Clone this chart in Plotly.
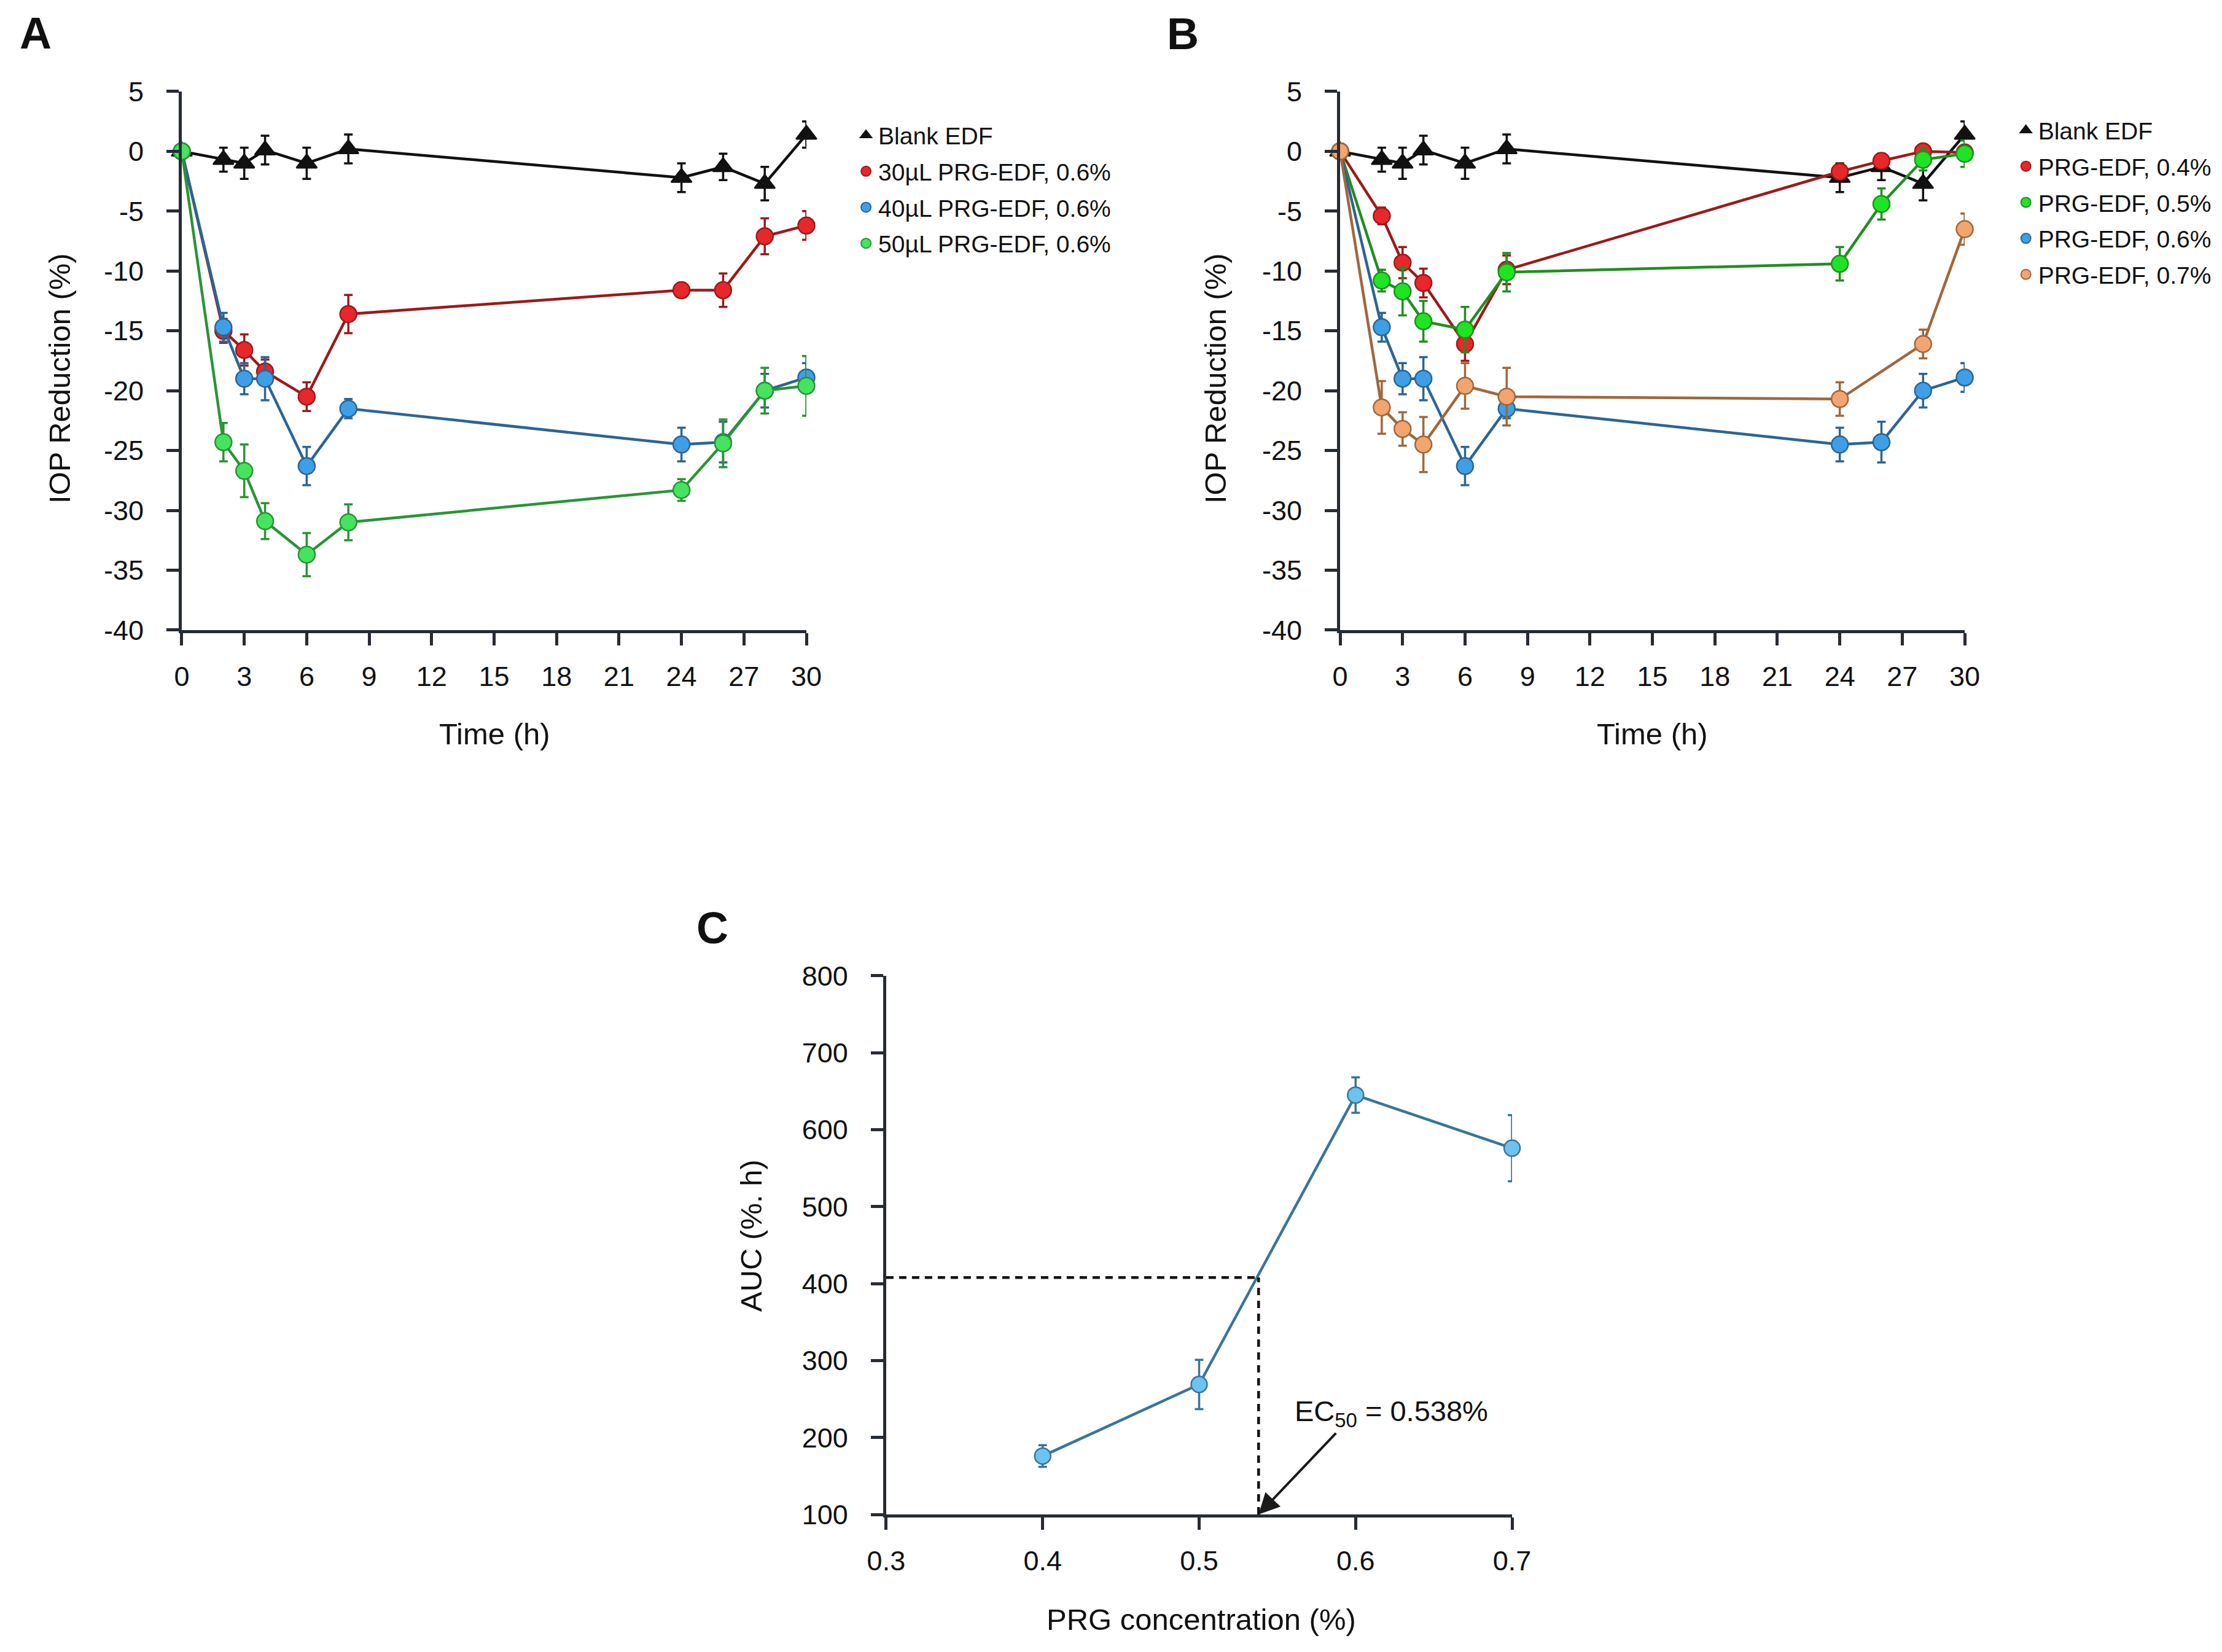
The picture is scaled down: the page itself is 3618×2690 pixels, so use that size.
import plotly.graph_objects as go

# ---- data ----
time_h = [0, 2, 3, 4, 6, 8, 24, 26, 28, 30]
time_h_07 = [0, 2, 3, 4, 6, 8, 24, 28, 30]   # 0.7% group has no 26 h point

blank = [0, -0.7, -1.0, 0.1, -1.0, 0.2, -2.2, -1.3, -2.7, 1.4]
blank_err = [0, 1.0, 1.3, 1.2, 1.3, 1.2, 1.2, 1.1, 1.4, 1.1]

# panel A: dose volume at 0.6%
vol30 = [0, -15.0, -16.6, -18.4, -20.5, -13.6, -11.6, -11.6, -7.1, -6.2]
vol30_err = [0, 1.0, 1.3, 1.0, 1.2, 1.6, 0.6, 1.4, 1.5, 1.2]
vol40 = [0, -14.7, -19.0, -19.0, -26.3, -21.5, -24.5, -24.3, -20.0, -18.9]
vol40_err = [0, 1.2, 1.3, 1.8, 1.6, 0.8, 1.4, 1.7, 1.4, 1.2]
vol50 = [0, -24.3, -26.7, -30.9, -33.7, -31.0, -28.3, -24.4, -20.0, -19.6]
vol50_err = [0, 1.6, 2.2, 1.5, 1.8, 1.5, 0.9, 2.0, 1.9, 2.5]

# panel B: concentration
conc04 = [0, -5.4, -9.3, -11.0, -16.1, -9.9, -1.7, -0.8, 0.0, -0.1]
conc04_err = [0, 0.7, 1.3, 1.2, 1.4, 1.2, 0.6, 0.4, 0.3, 0.3]
conc05 = [0, -10.8, -11.7, -14.2, -14.9, -10.1, -9.4, -4.4, -0.7, -0.2]
conc05_err = [0, 0.9, 2.0, 1.7, 1.9, 1.6, 1.4, 1.3, 0.9, 1.1]
conc06 = vol40
conc06_err = vol40_err
conc07 = [0, -21.4, -23.2, -24.5, -19.6, -20.5, -20.7, -16.1, -6.5]
conc07_err = [0, 2.2, 1.4, 2.3, 1.9, 2.4, 1.4, 1.2, 1.3]

# panel C: AUC vs concentration
prg_conc = [0.4, 0.5, 0.6, 0.7]
auc = [176, 269, 645, 576]
auc_err = [14, 32, 23, 43]
ec50 = 0.538
auc_at_ec50 = 408

x_ticks_time = list(range(0, 31, 3))
y_ticks_iop = list(range(-40, 6, 5))
y_ticktext_iop = [str(v) for v in y_ticks_iop]
x_ticks_conc = [0.3, 0.4, 0.5, 0.6, 0.7]
y_ticks_auc = list(range(100, 801, 100))

FONT = "Arial, Liberation Sans, Helvetica, sans-serif"
AX_COL = "#262c35"

fig = go.Figure()


def add_series(t, y, err, name, fill, line_col, xa, ya, leg, symbol="circle", size=27):
    fig.add_trace(go.Scatter(
        x=t, y=y, mode="lines+markers", xaxis=xa, yaxis=ya, showlegend=False,
        line=dict(color=line_col, width=4.5),
        marker=dict(symbol=symbol, size=size, color=fill,
                    line=dict(color=line_col, width=2.5)),
        error_y=dict(type="data", array=err, color=line_col, thickness=3.5, width=7),
        cliponaxis=False,
    ))
    # legend entry shows only the marker
    fig.add_trace(go.Scatter(
        x=[None], y=[None], mode="markers", name=name, xaxis=xa, yaxis=ya,
        legend=leg, legendgroup=leg + name,
        marker=dict(symbol=symbol, size=size, color=fill,
                    line=dict(color=line_col, width=2)),
    ))


# Panel A
add_series(time_h, blank, blank_err, "Blank EDF", "#111111", "#111111", "x", "y", "legend",
           symbol="triangle-up", size=29)
add_series(time_h, vol30, vol30_err, "30µL PRG-EDF, 0.6%", "#e8272b", "#9c1a1a", "x", "y", "legend")
add_series(time_h, vol40, vol40_err, "40µL PRG-EDF, 0.6%", "#3f9fe6", "#2b6594", "x", "y", "legend")
add_series(time_h, vol50, vol50_err, "50µL PRG-EDF, 0.6%", "#45e35e", "#2a9436", "x", "y", "legend")

# Panel B
add_series(time_h, blank, blank_err, "Blank EDF", "#111111", "#111111", "x2", "y2", "legend2",
           symbol="triangle-up", size=29)
add_series(time_h, conc04, conc04_err, "PRG-EDF, 0.4%", "#e8272b", "#9c1a1a", "x2", "y2", "legend2")
add_series(time_h, conc05, conc05_err, "PRG-EDF, 0.5%", "#1ee424", "#1f8f1f", "x2", "y2", "legend2")
add_series(time_h, conc06, conc06_err, "PRG-EDF, 0.6%", "#3f9fe6", "#2b6594", "x2", "y2", "legend2")
add_series(time_h_07, conc07, conc07_err, "PRG-EDF, 0.7%", "#f2a56f", "#a0673c", "x2", "y2", "legend2")

# Panel C
fig.add_trace(go.Scatter(
    x=prg_conc, y=auc, mode="lines+markers", xaxis="x3", yaxis="y3", showlegend=False,
    line=dict(color="#3a7598", width=4.5),
    marker=dict(size=26, color="#6cc2f0", line=dict(color="#3a7598", width=2.5)),
    error_y=dict(type="data", array=auc_err, color="#3a7598", thickness=3.5, width=7),
    cliponaxis=False,
))

axis_common = dict(
    showline=True, linecolor=AX_COL, linewidth=5, mirror=False, automargin=False,
    ticks="outside", ticklen=20, tickwidth=5, tickcolor=AX_COL,
    showgrid=False, zeroline=False,
    tickfont=dict(family=FONT, size=45, color="#111111"),
)

# the page puts the plot 8px in from the top-left corner; domains allow for that
fig.update_layout(
    template="none",
    width=3618, height=2690, autosize=False,
    paper_bgcolor="white", plot_bgcolor="white",
    margin=dict(l=0, r=0, t=0, b=0, pad=0),
    font=dict(family=FONT, color="#111111"),
    xaxis=dict(domain=[0.0796, 0.3607], range=[0, 30], tickvals=x_ticks_time, anchor="y",
               ticklabelstandoff=12, **axis_common),
    yaxis=dict(domain=[0.6216, 0.9476], range=[-40, 5], tickvals=y_ticks_iop,
               ticktext=y_ticktext_iop, anchor="x", ticklabelstandoff=28, **axis_common),
    xaxis2=dict(domain=[0.6009, 0.8820], range=[0, 30], tickvals=x_ticks_time, anchor="y2",
                ticklabelstandoff=12, **axis_common),
    yaxis2=dict(domain=[0.6216, 0.9476], range=[-40, 5], tickvals=y_ticks_iop,
                ticktext=y_ticktext_iop, anchor="x2", ticklabelstandoff=28, **axis_common),
    xaxis3=dict(domain=[0.3966, 0.6783], range=[0.3, 0.7], tickvals=x_ticks_conc,
                tickformat=".1f", anchor="y3", ticklabelstandoff=12, **axis_common),
    yaxis3=dict(domain=[0.0862, 0.4123], range=[100, 800], tickvals=y_ticks_auc, anchor="x3",
                ticklabelstandoff=28, **axis_common),
    legend=dict(x=0.382, y=0.933, xanchor="left", yanchor="top",
                font=dict(family=FONT, size=39, color="#111111"),
                tracegroupgap=5, bgcolor="rgba(0,0,0,0)"),
    legend2=dict(x=0.904, y=0.936, xanchor="left", yanchor="top",
                 font=dict(family=FONT, size=39, color="#111111"),
                 tracegroupgap=5, bgcolor="rgba(0,0,0,0)"),
)

# EC50 guide lines
fig.add_shape(type="line", xref="x3", yref="y3", x0=0.3, x1=ec50, y0=auc_at_ec50, y1=auc_at_ec50,
              line=dict(color="#111111", width=4.5, dash="12px,9px"))
fig.add_shape(type="line", xref="x3", yref="y3", x0=ec50, x1=ec50, y0=100, y1=auc_at_ec50,
              line=dict(color="#111111", width=4.5, dash="12px,9px"))
fig.add_annotation(x=ec50, y=100, xref="x3", yref="y3", ax=0.588, ay=207, axref="x3", ayref="y3",
                   text="", showarrow=True, arrowhead=2, arrowsize=1.7, arrowwidth=4,
                   arrowcolor="#1a1a1a")
fig.add_annotation(x=0.623, y=232, xref="x3", yref="y3", text="EC<sub>50</sub> = 0.538%",
                   showarrow=False, font=dict(family=FONT, size=47, color="#111111"))

# panel letters and axis titles (centred on the given point)
for txt, px, py in [("A", 0.0138, 0.9829), ("B", 0.5301, 0.9825), ("C", 0.3184, 0.4413)]:
    fig.add_annotation(x=px, y=py, xref="paper", yref="paper", text="<b>" + txt + "</b>",
                       xanchor="center", yanchor="middle",
                       showarrow=False, font=dict(family=FONT, size=72, color="#111111"))

title_font = dict(family=FONT, size=49, color="#111111")
for txt, px, py, ang in [
    ("IOP Reduction (%)", 0.0246, 0.774, -90),
    ("IOP Reduction (%)", 0.5448, 0.774, -90),
    ("Time (h)", 0.2203, 0.5587, 0),
    ("Time (h)", 0.7413, 0.5587, 0),
    ("AUC (%. h)", 0.3358, 0.255, -90),
    ("PRG concentration (%)", 0.5384, 0.0227, 0),
]:
    fig.add_annotation(x=px, y=py, xref="paper", yref="paper", text=txt, textangle=ang,
                       xanchor="center", yanchor="middle",
                       showarrow=False, font=title_font)

fig.write_html("out.html")
